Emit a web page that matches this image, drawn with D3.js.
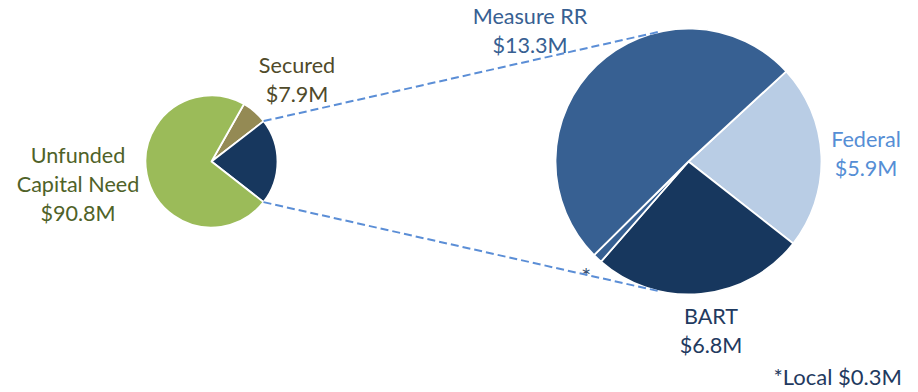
<!DOCTYPE html>
<html>
<head>
<meta charset="utf-8">
<script src="https://cdn.jsdelivr.net/npm/d3@7"></script>
<style>
  html, body { margin: 0; padding: 0; background: #fff; }
  svg { display: block; }
  text { font-family: Lato, "Noto Sans", sans-serif; }
</style>
</head>
<body>
<svg id="chart" width="918" height="392"></svg>
<script>
// Secured funding sources (broken out in the larger pie), $M
const sourceNames = ["Federal", "BART", "Local", "Measure RR"];
const sourceValues = [5.9, 6.8, 0.3, 13.3];
const sourceColors = ["#B9CDE5", "#17375E", "#376092", "#376092"];

// Overall capital program, $M; the middle slice is the sum of the sources above
const overviewNames = ["Secured", "Funding Sources", "Unfunded Capital Need"];
const overviewValues = [7.9, d3.sum(sourceValues), 90.8];
const overviewColors = ["#948A54", "#17375E", "#9BBB59"];

const svg = d3.select("#chart");
const deg = Math.PI / 180;

const small = { cx: 211.5, cy: 161.5, r: 66, start: 29.5 * deg };
const big = { cx: 688.5, cy: 161.5, r: 133, start: 47.3 * deg };

const smallPie = d3.pie().sort(null)
  .startAngle(small.start).endAngle(small.start + 2 * Math.PI)
  .value(d => d.value);
const bigPie = d3.pie().sort(null)
  .startAngle(big.start).endAngle(big.start + 2 * Math.PI)
  .value(d => d.value);

const smallArcs = smallPie(overviewNames.map((n, i) => ({ name: n, value: overviewValues[i], color: overviewColors[i] })));
const bigArcs = bigPie(sourceNames.map((n, i) => ({ name: n, value: sourceValues[i], color: sourceColors[i] })));

const smallArc = d3.arc().innerRadius(0).outerRadius(small.r);
const bigArc = d3.arc().innerRadius(0).outerRadius(big.r);

svg.append("g").attr("transform", `translate(${small.cx},${small.cy})`)
  .selectAll("path").data(smallArcs).join("path")
  .attr("d", smallArc)
  .attr("fill", d => d.data.color)
  .attr("stroke", "#fff").attr("stroke-width", 1.8).attr("stroke-linejoin", "round");

svg.append("g").attr("transform", `translate(${big.cx},${big.cy})`)
  .selectAll("path").data(bigArcs).join("path")
  .attr("d", bigArc)
  .attr("fill", d => d.data.color)
  .attr("stroke", "#fff").attr("stroke-width", 1.8).attr("stroke-linejoin", "round");

// Connector lines: from the edges of the broken-out slice, tangent to the larger pie
const broken = smallArcs[1];
function polar(c, r, a) { return [c.cx + r * Math.sin(a), c.cy - r * Math.cos(a)]; }
function tangents(p) {
  const dx = p[0] - big.cx, dy = p[1] - big.cy;
  const d = Math.hypot(dx, dy);
  const phi = Math.atan2(dy, dx);
  const a = Math.acos(big.r / d);
  const t1 = [big.cx + big.r * Math.cos(phi + a), big.cy + big.r * Math.sin(phi + a)];
  const t2 = [big.cx + big.r * Math.cos(phi - a), big.cy + big.r * Math.sin(phi - a)];
  return t1[1] < t2[1] ? [t1, t2] : [t2, t1];
}
const pTop = polar(small, small.r, broken.startAngle);
const pBot = polar(small, small.r, broken.endAngle);
const connectors = [[pTop, tangents(pTop)[0]], [pBot, tangents(pBot)[1]]];

// Labels
const labels = [
  { lines: ["Unfunded", "Capital Need", "$90.8M"], x: 78, y: 163, color: "#4F6228" },
  { lines: ["Secured", "$7.9M"], x: 297, y: 73, color: "#4F4A2A" },
  { lines: ["Measure RR", "$13.3M"], x: 530, y: 24, color: "#376092" },
  { lines: ["Federal", "$5.9M"], x: 866, y: 147, color: "#558ED5" },
  { lines: ["BART", "$6.8M"], x: 711, y: 324, color: "#1F3A60" },
];
const lineGap = 29;
labels.forEach(l => {
  const t = svg.append("text")
    .attr("text-anchor", "middle")
    .attr("fill", l.color)
    .attr("font-size", 21.6);
  l.lines.forEach((s, i) => {
    t.append("tspan").attr("x", l.x).attr("y", l.y + i * lineGap).text(s);
  });
});

svg.append("text").attr("x", 586).attr("y", 285)
  .attr("text-anchor", "middle").attr("fill", "#3A5274")
  .attr("font-size", 24).text("*");

svg.append("text").attr("x", 902).attr("y", 385)
  .attr("text-anchor", "end").attr("fill", "#1F3A60")
  .attr("font-size", 22).text("*Local $0.3M");

svg.append("g").selectAll("line").data(connectors).join("line")
  .attr("x1", d => d[0][0]).attr("y1", d => d[0][1])
  .attr("x2", d => d[1][0]).attr("y2", d => d[1][1])
  .attr("stroke", "#5B8ED6").attr("stroke-width", 2)
  .attr("stroke-dasharray", "8,4");
</script>
</body>
</html>
